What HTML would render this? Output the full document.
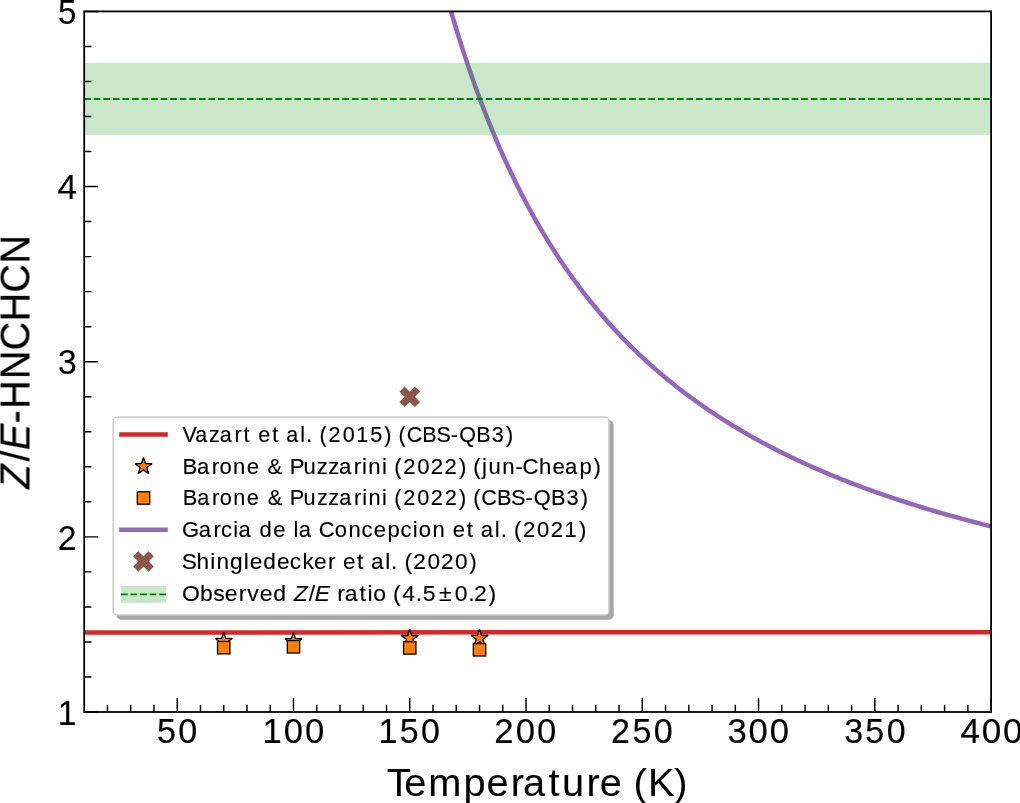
<!DOCTYPE html>
<html><head><meta charset="utf-8"><style>
html,body{margin:0;padding:0;background:#fff;overflow:hidden;}
svg{display:block;font-family:"Liberation Sans", sans-serif;}
text{fill:#000;stroke:#000;}
.t{filter:grayscale(1);}
</style></head><body>
<svg width="1020" height="803" viewBox="0 0 1020 803">
<defs><clipPath id="ax"><rect x="84.20" y="11.40" width="906.90" height="700.60"/></clipPath></defs>
<rect width="1020" height="803" fill="#fff"/>
<g class="t">
<text transform="translate(56.69,724.80) scale(0.9570,1)" font-size="35.03" stroke-width="0.11"><tspan x="1.15">1</tspan></text>
<text transform="translate(56.95,549.80) scale(0.9659,1)" font-size="35.03" stroke-width="0.11"><tspan x="0.76">2</tspan></text>
<text transform="translate(56.78,374.30) scale(0.9623,1)" font-size="35.03" stroke-width="0.11"><tspan x="1.30">3</tspan></text>
<text transform="translate(56.58,199.00) scale(1.0022,1)" font-size="35.03" stroke-width="0.11"><tspan x="0.82">4</tspan></text>
<text transform="translate(56.72,23.80) scale(0.9457,1)" font-size="35.03" stroke-width="0.11"><tspan x="1.31">5</tspan></text>
<text transform="translate(156.08,743.10) scale(0.9740,1)" font-size="35.03" stroke-width="0.17"><tspan x="0.99 22.88">50</tspan></text>
<text transform="translate(261.60,743.10) scale(0.9880,1)" font-size="35.03" stroke-width="0.17"><tspan x="0.80 22.41 43.86">100</tspan></text>
<text transform="translate(377.55,743.10) scale(0.9687,1)" font-size="35.03" stroke-width="0.17"><tspan x="1.02 22.92 44.93">150</tspan></text>
<text transform="translate(493.71,743.10) scale(0.9904,1)" font-size="35.03" stroke-width="0.17"><tspan x="0.50 22.34 43.73">200</tspan></text>
<text transform="translate(610.26,743.10) scale(0.9713,1)" font-size="35.03" stroke-width="0.17"><tspan x="0.70 22.83 44.78">250</tspan></text>
<text transform="translate(726.46,743.10) scale(0.9889,1)" font-size="35.03" stroke-width="0.17"><tspan x="1.01 22.39 43.81">300</tspan></text>
<text transform="translate(843.16,743.10) scale(0.9701,1)" font-size="35.03" stroke-width="0.17"><tspan x="1.21 22.88 44.85">350</tspan></text>
<text transform="translate(959.71,743.10) scale(1.0021,1)" font-size="35.03" stroke-width="0.17"><tspan x="0.82 21.96 43.11">400</tspan></text>
<text transform="translate(387.51,795.80) scale(1.0170,1)" font-size="39.07" stroke-width="0.09"><tspan x="-0.80 16.46 40.01 74.83 97.44 121.09 133.30 158.32 171.58 195.72 208.62 230.97 241.79 256.09 281.86">Temperature (K)</tspan></text>
<text transform="translate(29.50,489.92) rotate(-90) scale(0.9465,1)" font-size="42.05" stroke-width="0.21"><tspan x="1.32" font-style="italic">Z</tspan><tspan x="30.10">/</tspan><tspan x="42.00" font-style="italic">E</tspan><tspan x="70.24 85.48 117.07 147.31 178.06 208.38 239.05">-HNCHCN</tspan></text>
</g>
<g clip-path="url(#ax)">
<path d="M409.75,-162.04 L410.92,-156.11 L412.08,-150.24 L413.24,-144.45 L414.40,-138.73 L415.57,-133.07 L416.73,-127.49 L417.89,-121.97 L419.06,-116.52 L420.22,-111.13 L421.38,-105.80 L422.54,-100.54 L423.71,-95.34 L424.87,-90.19 L426.03,-85.11 L427.19,-80.09 L428.36,-75.12 L429.52,-70.21 L430.68,-65.36 L431.84,-60.56 L433.01,-55.82 L434.17,-51.12 L435.33,-46.48 L436.50,-41.90 L437.66,-37.36 L438.82,-32.87 L439.98,-28.43 L441.15,-24.04 L442.31,-19.70 L443.47,-15.40 L444.63,-11.15 L445.80,-6.95 L446.96,-2.79 L448.12,1.32 L449.29,5.39 L450.45,9.42 L451.61,13.41 L452.77,17.35 L453.94,21.26 L455.10,25.12 L456.26,28.95 L457.42,32.73 L458.59,36.48 L459.75,40.18 L460.91,43.85 L462.07,47.49 L463.24,51.08 L464.40,54.64 L465.56,58.17 L466.73,61.66 L467.89,65.11 L469.05,68.53 L470.21,71.92 L471.38,75.28 L472.54,78.60 L473.70,81.89 L474.86,85.15 L476.03,88.37 L477.19,91.57 L478.35,94.74 L479.52,97.87 L480.68,100.98 L481.84,104.05 L483.00,107.10 L484.17,110.12 L485.33,113.11 L486.49,116.07 L487.65,119.01 L488.82,121.92 L489.98,124.80 L491.14,127.66 L492.30,130.48 L493.47,133.29 L494.63,136.07 L495.79,138.82 L496.96,141.55 L498.12,144.25 L499.28,146.93 L500.44,149.59 L501.61,152.22 L502.77,154.83 L503.93,157.42 L505.09,159.99 L506.26,162.53 L507.42,165.05 L508.58,167.55 L509.75,170.02 L510.91,172.48 L512.07,174.91 L513.23,177.33 L514.40,179.72 L515.56,182.09 L516.72,184.45 L517.88,186.78 L519.05,189.09 L520.21,191.39 L521.37,193.66 L522.53,195.92 L523.70,198.16 L524.86,200.38 L526.02,202.58 L527.19,204.76 L528.35,206.93 L529.51,209.08 L530.67,211.21 L531.84,213.32 L533.00,215.42 L534.16,217.50 L535.32,219.56 L536.49,221.61 L537.65,223.64 L538.81,225.65 L539.98,227.65 L541.14,229.63 L542.30,231.60 L543.46,233.55 L544.63,235.49 L545.79,237.41 L546.95,239.32 L548.11,241.21 L549.28,243.09 L550.44,244.95 L551.60,246.80 L552.76,248.64 L553.93,250.46 L555.09,252.27 L556.25,254.06 L557.42,255.84 L558.58,257.61 L559.74,259.36 L560.90,261.10 L562.07,262.83 L563.23,264.55 L564.39,266.25 L565.55,267.94 L566.72,269.62 L567.88,271.29 L569.04,272.94 L570.21,274.58 L571.37,276.21 L572.53,277.83 L573.69,279.44 L574.86,281.03 L576.02,282.62 L577.18,284.19 L578.34,285.75 L579.51,287.30 L580.67,288.84 L581.83,290.37 L583.00,291.89 L584.16,293.40 L585.32,294.89 L586.48,296.38 L587.65,297.86 L588.81,299.32 L589.97,300.78 L591.13,302.23 L592.30,303.66 L593.46,305.09 L594.62,306.51 L595.78,307.91 L596.95,309.31 L598.11,310.70 L599.27,312.08 L600.44,313.45 L601.60,314.81 L602.76,316.16 L603.92,317.50 L605.09,318.84 L606.25,320.16 L607.41,321.48 L608.57,322.79 L609.74,324.09 L610.90,325.38 L612.06,326.66 L613.23,327.93 L614.39,329.20 L615.55,330.46 L616.71,331.71 L617.88,332.95 L619.04,334.18 L620.20,335.41 L621.36,336.63 L622.53,337.84 L623.69,339.04 L624.85,340.23 L626.01,341.42 L627.18,342.60 L628.34,343.77 L629.50,344.94 L630.67,346.10 L631.83,347.25 L632.99,348.39 L634.15,349.53 L635.32,350.66 L636.48,351.78 L637.64,352.90 L638.80,354.01 L639.97,355.11 L641.13,356.21 L642.29,357.30 L643.46,358.38 L644.62,359.45 L645.78,360.52 L646.94,361.59 L648.11,362.64 L649.27,363.69 L650.43,364.74 L651.59,365.78 L652.76,366.81 L653.92,367.84 L655.08,368.86 L656.24,369.87 L657.41,370.88 L658.57,371.88 L659.73,372.88 L660.90,373.87 L662.06,374.85 L663.22,375.83 L664.38,376.80 L665.55,377.77 L666.71,378.74 L667.87,379.69 L669.03,380.64 L670.20,381.59 L671.36,382.53 L672.52,383.47 L673.69,384.40 L674.85,385.32 L676.01,386.24 L677.17,387.16 L678.34,388.06 L679.50,388.97 L680.66,389.87 L681.82,390.76 L682.99,391.65 L684.15,392.54 L685.31,393.42 L686.47,394.29 L687.64,395.16 L688.80,396.03 L689.96,396.89 L691.13,397.74 L692.29,398.59 L693.45,399.44 L694.61,400.28 L695.78,401.12 L696.94,401.95 L698.10,402.78 L699.26,403.61 L700.43,404.43 L701.59,405.24 L702.75,406.05 L703.92,406.86 L705.08,407.66 L706.24,408.46 L707.40,409.26 L708.57,410.05 L709.73,410.83 L710.89,411.61 L712.05,412.39 L713.22,413.16 L714.38,413.93 L715.54,414.70 L716.70,415.46 L717.87,416.22 L719.03,416.97 L720.19,417.72 L721.36,418.47 L722.52,419.21 L723.68,419.95 L724.84,420.69 L726.01,421.42 L727.17,422.14 L728.33,422.87 L729.49,423.59 L730.66,424.31 L731.82,425.02 L732.98,425.73 L734.14,426.43 L735.31,427.14 L736.47,427.84 L737.63,428.53 L738.80,429.22 L739.96,429.91 L741.12,430.60 L742.28,431.28 L743.45,431.96 L744.61,432.63 L745.77,433.30 L746.93,433.97 L748.10,434.64 L749.26,435.30 L750.42,435.96 L751.59,436.62 L752.75,437.27 L753.91,437.92 L755.07,438.56 L756.24,439.21 L757.40,439.85 L758.56,440.48 L759.72,441.12 L760.89,441.75 L762.05,442.38 L763.21,443.00 L764.38,443.63 L765.54,444.25 L766.70,444.86 L767.86,445.48 L769.03,446.09 L770.19,446.69 L771.35,447.30 L772.51,447.90 L773.68,448.50 L774.84,449.10 L776.00,449.69 L777.16,450.28 L778.33,450.87 L779.49,451.46 L780.65,452.04 L781.82,452.62 L782.98,453.20 L784.14,453.77 L785.30,454.35 L786.47,454.92 L787.63,455.48 L788.79,456.05 L789.95,456.61 L791.12,457.17 L792.28,457.73 L793.44,458.28 L794.61,458.84 L795.77,459.39 L796.93,459.93 L798.09,460.48 L799.26,461.02 L800.42,461.56 L801.58,462.10 L802.74,462.64 L803.91,463.17 L805.07,463.70 L806.23,464.23 L807.39,464.75 L808.56,465.28 L809.72,465.80 L810.88,466.32 L812.05,466.84 L813.21,467.35 L814.37,467.86 L815.53,468.37 L816.70,468.88 L817.86,469.39 L819.02,469.89 L820.18,470.40 L821.35,470.89 L822.51,471.39 L823.67,471.89 L824.83,472.38 L826.00,472.87 L827.16,473.36 L828.32,473.85 L829.49,474.33 L830.65,474.82 L831.81,475.30 L832.97,475.78 L834.14,476.25 L835.30,476.73 L836.46,477.20 L837.62,477.67 L838.79,478.14 L839.95,478.61 L841.11,479.08 L842.28,479.54 L843.44,480.00 L844.60,480.46 L845.76,480.92 L846.93,481.37 L848.09,481.83 L849.25,482.28 L850.41,482.73 L851.58,483.18 L852.74,483.63 L853.90,484.07 L855.06,484.51 L856.23,484.96 L857.39,485.39 L858.55,485.83 L859.72,486.27 L860.88,486.70 L862.04,487.14 L863.20,487.57 L864.37,488.00 L865.53,488.42 L866.69,488.85 L867.85,489.27 L869.02,489.70 L870.18,490.12 L871.34,490.54 L872.51,490.95 L873.67,491.37 L874.83,491.78 L875.99,492.20 L877.16,492.61 L878.32,493.02 L879.48,493.42 L880.64,493.83 L881.81,494.23 L882.97,494.64 L884.13,495.04 L885.29,495.44 L886.46,495.84 L887.62,496.24 L888.78,496.63 L889.95,497.02 L891.11,497.42 L892.27,497.81 L893.43,498.20 L894.60,498.59 L895.76,498.97 L896.92,499.36 L898.08,499.74 L899.25,500.12 L900.41,500.50 L901.57,500.88 L902.74,501.26 L903.90,501.64 L905.06,502.01 L906.22,502.39 L907.39,502.76 L908.55,503.13 L909.71,503.50 L910.87,503.87 L912.04,504.23 L913.20,504.60 L914.36,504.96 L915.53,505.33 L916.69,505.69 L917.85,506.05 L919.01,506.41 L920.18,506.76 L921.34,507.12 L922.50,507.48 L923.66,507.83 L924.83,508.18 L925.99,508.53 L927.15,508.88 L928.31,509.23 L929.48,509.58 L930.64,509.92 L931.80,510.27 L932.97,510.61 L934.13,510.96 L935.29,511.30 L936.45,511.64 L937.62,511.98 L938.78,512.31 L939.94,512.65 L941.10,512.98 L942.27,513.32 L943.43,513.65 L944.59,513.98 L945.76,514.31 L946.92,514.64 L948.08,514.97 L949.24,515.30 L950.41,515.62 L951.57,515.95 L952.73,516.27 L953.89,516.59 L955.06,516.92 L956.22,517.24 L957.38,517.55 L958.54,517.87 L959.71,518.19 L960.87,518.51 L962.03,518.82 L963.20,519.13 L964.36,519.45 L965.52,519.76 L966.68,520.07 L967.85,520.38 L969.01,520.69 L970.17,520.99 L971.33,521.30 L972.50,521.61 L973.66,521.91 L974.82,522.21 L975.98,522.51 L977.15,522.82 L978.31,523.12 L979.47,523.42 L980.64,523.71 L981.80,524.01 L982.96,524.31 L984.12,524.60 L985.29,524.90 L986.45,525.19 L987.61,525.48 L988.77,525.77 L989.94,526.06 L991.10,526.35" fill="none" stroke="#9467bd" stroke-width="4.5" stroke-linejoin="round"/>
<rect x="84.20" y="62.8" width="906.90" height="72.1" fill="#2ca02c" fill-opacity="0.25"/>
<line x1="84.20" y1="98.98" x2="991.10" y2="98.98" stroke="#008000" stroke-width="1.8" stroke-dasharray="6.67 2.89"/>
<line x1="84.20" y1="632.45" x2="991.10" y2="632.15" stroke="#d62728" stroke-width="4.5"/>
</g>
<polygon points="223.72,632.20 225.74,638.42 232.28,638.42 226.99,642.26 229.01,648.48 223.72,644.64 218.43,648.48 220.45,642.26 215.16,638.42 221.70,638.42" fill="#ff7f0e" stroke="#000" stroke-width="1.3" stroke-linejoin="bevel"/>
<polygon points="293.48,632.40 295.51,638.62 302.04,638.62 296.75,642.46 298.77,648.68 293.48,644.84 288.19,648.68 290.22,642.46 284.93,638.62 291.46,638.62" fill="#ff7f0e" stroke="#000" stroke-width="1.3" stroke-linejoin="bevel"/>
<polygon points="409.75,629.30 411.77,635.52 418.31,635.52 413.02,639.36 415.04,645.58 409.75,641.74 404.46,645.58 406.48,639.36 401.19,635.52 407.73,635.52" fill="#ff7f0e" stroke="#000" stroke-width="1.3" stroke-linejoin="bevel"/>
<polygon points="479.52,629.20 481.54,635.42 488.07,635.42 482.78,639.26 484.81,645.48 479.52,641.64 474.23,645.48 476.25,639.26 470.96,635.42 477.49,635.42" fill="#ff7f0e" stroke="#000" stroke-width="1.3" stroke-linejoin="bevel"/>
<rect x="217.52" y="641.50" width="12.40" height="12.40" fill="#ff7f0e" stroke="#000" stroke-width="1.3"/>
<rect x="287.28" y="640.60" width="12.40" height="12.40" fill="#ff7f0e" stroke="#000" stroke-width="1.3"/>
<rect x="403.55" y="641.70" width="12.40" height="12.40" fill="#ff7f0e" stroke="#000" stroke-width="1.3"/>
<rect x="473.32" y="643.60" width="12.40" height="12.40" fill="#ff7f0e" stroke="#000" stroke-width="1.3"/>
<polygon points="404.60,386.50 409.75,391.65 414.90,386.50 420.05,391.65 414.90,396.80 420.05,401.95 414.90,407.10 409.75,401.95 404.60,407.10 399.45,401.95 404.60,396.80 399.45,391.65" fill="#8c564b"/>
<rect x="84.20" y="11.40" width="906.90" height="700.60" fill="none" stroke="#000" stroke-width="1.8"/>
<path d="M177.22,712.00v-14M293.48,712.00v-14M409.75,712.00v-14M526.02,712.00v-14M642.29,712.00v-14M758.56,712.00v-14M874.83,712.00v-14M991.10,712.00v-14M107.45,712.00v-7.2M130.71,712.00v-7.2M153.96,712.00v-7.2M200.47,712.00v-7.2M223.72,712.00v-7.2M246.98,712.00v-7.2M270.23,712.00v-7.2M316.74,712.00v-7.2M339.99,712.00v-7.2M363.25,712.00v-7.2M386.50,712.00v-7.2M433.01,712.00v-7.2M456.26,712.00v-7.2M479.52,712.00v-7.2M502.77,712.00v-7.2M549.28,712.00v-7.2M572.53,712.00v-7.2M595.78,712.00v-7.2M619.04,712.00v-7.2M665.55,712.00v-7.2M688.80,712.00v-7.2M712.05,712.00v-7.2M735.31,712.00v-7.2M781.82,712.00v-7.2M805.07,712.00v-7.2M828.32,712.00v-7.2M851.58,712.00v-7.2M898.08,712.00v-7.2M921.34,712.00v-7.2M944.59,712.00v-7.2M967.85,712.00v-7.2M84.20,712.00h14.0M84.20,676.97h7.2M84.20,641.94h7.2M84.20,606.91h7.2M84.20,571.88h7.2M84.20,536.85h14.0M84.20,501.82h7.2M84.20,466.79h7.2M84.20,431.76h7.2M84.20,396.73h7.2M84.20,361.70h14.0M84.20,326.67h7.2M84.20,291.64h7.2M84.20,256.61h7.2M84.20,221.58h7.2M84.20,186.55h14.0M84.20,151.52h7.2M84.20,116.49h7.2M84.20,81.46h7.2M84.20,46.43h7.2M84.20,11.40h14.0" stroke="#000" stroke-width="1.45" fill="none"/>
<rect x="117.15" y="421.00" width="495.80" height="197.90" rx="4" fill="#a6a6a6" stroke="#a6a6a6" stroke-width="1.5"/>
<rect x="113.15" y="417.00" width="495.80" height="197.90" rx="4" fill="#fff" stroke="#cccccc" stroke-width="1.5"/>
<line x1="119.20" y1="434.50" x2="167.80" y2="434.50" stroke="#d62728" stroke-width="4.5"/>
<polygon points="143.50,457.44 145.52,463.66 152.06,463.66 146.77,467.50 148.79,473.72 143.50,469.88 138.21,473.72 140.23,467.50 134.94,463.66 141.48,463.66" fill="#ff7f0e" stroke="#000" stroke-width="1.3" stroke-linejoin="bevel"/>
<rect x="137.30" y="491.78" width="12.40" height="12.40" fill="#ff7f0e" stroke="#000" stroke-width="1.3"/>
<line x1="119.20" y1="529.72" x2="167.80" y2="529.72" stroke="#9467bd" stroke-width="4.5"/>
<polygon points="138.35,551.16 143.50,556.31 148.65,551.16 153.80,556.31 148.65,561.46 153.80,566.61 148.65,571.76 143.50,566.61 138.35,571.76 133.20,566.61 138.35,561.46 133.20,556.31" fill="#8c564b"/>
<rect x="121" y="586.0" width="45" height="16.8" fill="#2ca02c" fill-opacity="0.25"/>
<line x1="121" y1="594.3" x2="166" y2="594.3" stroke="#008000" stroke-width="1.8" stroke-dasharray="6.67 2.89"/>
<g class="t">
<text transform="translate(182.18,441.80) scale(0.9409,1)" font-size="22.88" stroke-width="0.15"><tspan x="0.25 13.84 28.55 40.07 55.74 65.10 73.34 80.95 95.65 103.89 110.59 125.52 131.74 139.08 146.03 155.57 170.54 185.11 199.79 214.84 223.06 230.01 238.56 255.25 270.21 285.39 294.37 312.59 329.14 344.08">Vazart et al. (2015) (CBS-QB3)</tspan></text>
<text transform="translate(182.47,473.50) scale(0.9673,1)" font-size="22.88" stroke-width="0.15"><tspan x="0.03 15.06 30.37 38.34 52.35 66.35 79.95 87.94 104.56 110.82 125.13 138.92 150.69 161.86 177.18 185.73 192.17 206.17 212.21 218.94 228.17 242.73 256.70 270.97 285.90 293.90 300.63 309.76 316.31 330.62 344.28 351.57 368.55 382.58 395.47 410.44 424.91">Barone &amp; Puzzarini (2022) (jun-Cheap)</tspan></text>
<text transform="translate(182.47,505.30) scale(0.9495,1)" font-size="22.88" stroke-width="0.15"><tspan x="0.18 15.47 31.02 39.18 53.45 67.71 81.51 89.74 106.58 113.04 127.59 141.63 153.62 165.02 180.58 189.26 195.89 210.08 216.24 223.12 232.56 247.39 261.62 276.16 291.32 299.46 306.34 314.77 331.31 346.14 361.21 370.07 388.14 404.55 419.38">Barone &amp; Puzzarini (2022) (CBS-QB3)</tspan></text>
<text transform="translate(182.28,537.00) scale(0.9626,1)" font-size="22.88" stroke-width="0.15"><tspan x="-0.18 17.17 32.55 40.24 53.02 58.39 72.89 80.29 94.57 108.22 115.57 120.95 135.45 141.69 158.48 172.56 186.23 199.02 213.20 226.78 239.56 245.75 259.83 273.69 281.06 295.50 303.55 310.02 324.71 330.77 337.95 344.72 354.00 368.63 382.67 397.20 412.01">Garcia de la Concepcion et al. (2021)</tspan></text>
<text transform="translate(182.27,568.80) scale(0.9898,1)" font-size="22.88" stroke-width="0.15"><tspan x="-0.56 14.51 28.31 34.52 48.24 62.19 68.20 81.72 95.59 108.70 121.50 133.02 147.20 155.39 162.48 176.60 184.43 190.62 205.03 210.91 217.88 224.43 233.41 247.64 261.30 275.53 289.91">Shingledecker et al. (2020)</tspan></text>
<text transform="translate(182.28,600.50) scale(1.0038,1)" font-size="22.88" stroke-width="0.15"><tspan x="-0.39 17.64 30.78 42.31 56.32 64.83 77.27 90.61 104.21">Observed </tspan><tspan x="111.10" font-style="italic">Z</tspan><tspan x="126.09">/</tspan><tspan x="131.91" font-style="italic">E</tspan><tspan x="146.81 154.47 161.75 176.55 184.50 190.28 203.50 209.94 219.05 232.54 239.59 255.68 271.52 285.01 290.66 305.17"> ratio (4.5±0.2)</tspan></text>
</g>
</svg></body></html>
